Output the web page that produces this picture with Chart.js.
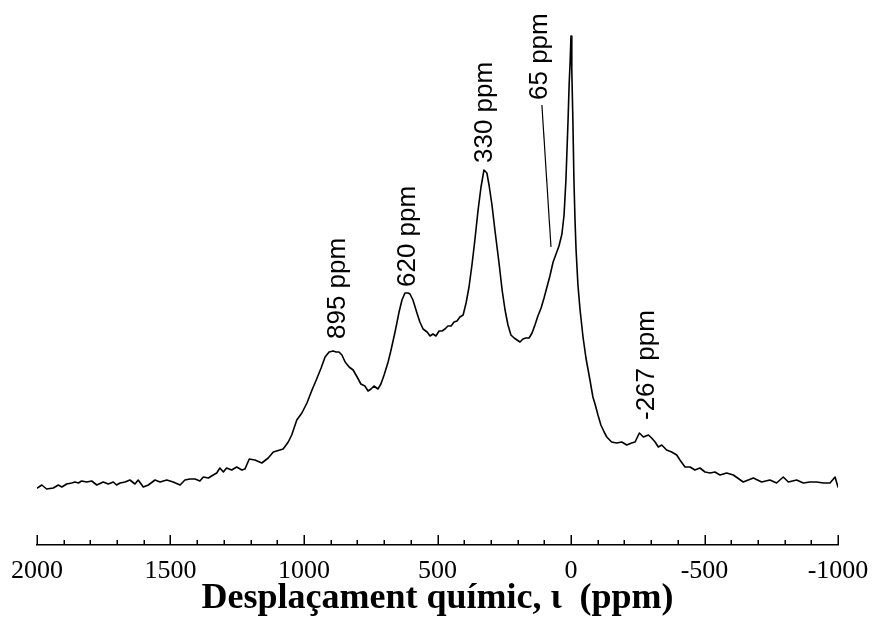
<!DOCTYPE html>
<html>
<head>
<meta charset="utf-8">
<script src="https://cdn.jsdelivr.net/npm/chart.js@4/dist/chart.umd.min.js"></script>
<style>
  html, body { margin: 0; padding: 0; background: #fff; }
  #wrap { width: 874px; height: 619px; position: relative; }
</style>
</head>
<body>
<div id="wrap"><canvas id="c"></canvas></div>
<script>
// Chemical shift (ppm) and intensity (arbitrary units)
const ppm = [
  1999,1982,1964,1939,1920,1907,1889,1870,1858,1845,
  1833,1814,1795,1776,1752,1733,1714,1702,1689,1670,
  1652,1633,1621,1602,1583,1558,1539,1514,1490,1464,
  1446,1427,1408,1390,1377,1358,1340,1327,1315,1302,
  1290,1271,1252,1233,1221,1205,1184,1158,1134,1115,
  1078,1059,1046,1027,
  1008,989,970,951,936,921,906,891,880,869,
  858,846,831,816,801,787,772,760,749,738,
  723,712,700,685,674,659,644,633,622,610,
  603,592,577,566,554,539,528,517,506,494,
  483,472,461,449,438,427,416,404,393,382,
  371,360,348,337,326,315,307,296,285,270,
  258,247,236,225,213,202,191,180,169,157,
  146,135,124,112,101,90,79,67,56,45,
  34,26,19,11,7,3,0,-3,-7,-11,
  -15,-19,-26,-34,-45,-56,-71,-82,-90,-101,
  -112,-124,-134,-152,-171,-190,-209,-227,-240,-256,
  -271,-290,-302,-315,-327,-340,-358,-377,-396,-408,
  -427,-446,-464,-483,-502,-521,-539,-558,-583,-608,
  -645,-683,-714,-745,-770,-795,-814,-845,-870,-895,
  -920,-945,-970,-989,-1000
];
const intensity = [
  57,60,56,57,60,58,61,62,63,62,
  64,63,64,60,63,61,63,60,62,63,
  65,61,65,58,60,65,63,65,63,60,
  65,66,66,64,68,67,70,72,77,73,
  77,75,78,75,76,86,85,82,87,93,
  96,103,110,125,
  132,142,155,167,177,188,193,194,193,193,
  190,183,178,175,168,161,159,154,156,159,
  156,161,170,183,195,213,233,245,252,252,
  251,245,232,223,216,213,209,211,209,214,
  214,216,219,219,223,224,228,230,242,258,
  280,305,335,358,375,372,360,340,315,283,
  255,235,220,210,207,205,203,206,207,207,
  212,220,229,237,247,258,269,283,291,299,
  311,330,365,425,460,485,509,475,425,365,
  325,295,260,235,208,187,165,148,141,130,
  120,113,108,103,102,103,100,102,103,112,
  108,110,107,103,98,100,95,93,90,85,
  78,78,75,77,73,72,73,70,72,70,
  63,67,63,65,62,68,63,65,62,63,
  63,62,62,68,58
];
// Axis ticks
const tickValues = [2000, 1500, 1000, 500, 0, -500, -1000];
const tickLabels = ["2000", "1500", "1000", "500", "0", "-500", "-1000"];
const minorStep = 100;
// Peak annotations (anchor in data coordinates)
const peakLabels = ["895 ppm", "620 ppm", "330 ppm", "65 ppm", "-267 ppm"];
const peakLabelPpm = [846, 584, 296, 90, -311];
const peakLabelValue = [206, 258, 382, 445, 125];
// leader line for the 65 ppm shoulder
const leaderPpm = [109, 75];
const leaderValue = [440, 298];

const axisTicksPlugin = {
  id: 'axisTicks',
  afterDraw(chart) {
    const xs = chart.scales.x;
    const ctx = chart.ctx;
    const bottom = chart.chartArea.bottom;
    ctx.save();
    ctx.strokeStyle = '#000';
    ctx.lineWidth = 1.5;
    for (let v = xs.min; v <= xs.max; v += minorStep) {
      const major = tickValues.includes(v);
      const px = Math.round(xs.getPixelForValue(v)) + 0.25;
      ctx.beginPath();
      ctx.moveTo(px, bottom);
      ctx.lineTo(px, bottom - (major ? 10 : 5));
      ctx.stroke();
    }
    ctx.restore();
  }
};

const annotationPlugin = {
  id: 'peakAnnotations',
  afterDatasetsDraw(chart) {
    const xs = chart.scales.x, ys = chart.scales.y;
    const ctx = chart.ctx;
    ctx.save();
    ctx.fillStyle = '#000';
    ctx.font = '26px "Liberation Sans", Arial, sans-serif';
    ctx.textAlign = 'left';
    ctx.textBaseline = 'alphabetic';
    peakLabels.forEach((t, i) => {
      const px = xs.getPixelForValue(peakLabelPpm[i]);
      const py = ys.getPixelForValue(peakLabelValue[i]);
      ctx.save();
      ctx.translate(px, py);
      ctx.rotate(-Math.PI / 2);
      ctx.fillText(t, 0, 0);
      ctx.restore();
    });
    ctx.strokeStyle = '#000';
    ctx.lineWidth = 1.2;
    ctx.beginPath();
    ctx.moveTo(xs.getPixelForValue(leaderPpm[0]), ys.getPixelForValue(leaderValue[0]));
    ctx.lineTo(xs.getPixelForValue(leaderPpm[1]), ys.getPixelForValue(leaderValue[1]));
    ctx.stroke();
    ctx.restore();
  }
};

new Chart(document.getElementById('c'), {
  type: 'line',
  data: {
    datasets: [{
      data: ppm.map((p, i) => ({ x: p, y: intensity[i] })),
      borderColor: '#000',
      borderWidth: 1.6,
      borderJoinStyle: 'round',
      borderCapStyle: 'round',
      pointRadius: 0,
      fill: false,
      tension: 0
    }]
  },
  options: {
    responsive: true,
    maintainAspectRatio: false,
    animation: false,
    layout: { padding: { left: 37, right: 36, top: 10, bottom: 0 } },
    plugins: { legend: { display: false }, tooltip: { enabled: false } },
    scales: {
      x: {
        type: 'linear',
        reverse: true,
        min: -1000,
        max: 2000,
        afterBuildTicks(scale) {
          scale.ticks = tickValues.map(v => ({ value: v }));
        },
        afterFit(scale) {
          scale.paddingLeft = 0;
          scale.paddingRight = 0;
          scale.height = 74;
        },
        grid: { display: true, drawOnChartArea: false, drawTicks: false },
        border: { display: true, color: '#000', width: 1.5 },
        ticks: {
          autoSkip: false,
          maxRotation: 0,
          padding: 13,
          color: '#000',
          font: { family: '"Liberation Serif", "Times New Roman", serif', size: 26, lineHeight: 1 },
          callback(value) {
            const i = tickValues.indexOf(value);
            return i >= 0 ? tickLabels[i] : '';
          }
        },
        title: {
          display: true,
          text: 'Desplaçament químic, ι  (ppm)',
          color: '#000',
          padding: { top: 0, bottom: 2 },
          font: { family: '"Liberation Serif", "Times New Roman", serif', size: 36, weight: 'bold', lineHeight: 1 }
        }
      },
      y: {
        display: false,
        min: 0,
        max: 535
      }
    }
  },
  plugins: [axisTicksPlugin, annotationPlugin]
});
</script>
</body>
</html>
